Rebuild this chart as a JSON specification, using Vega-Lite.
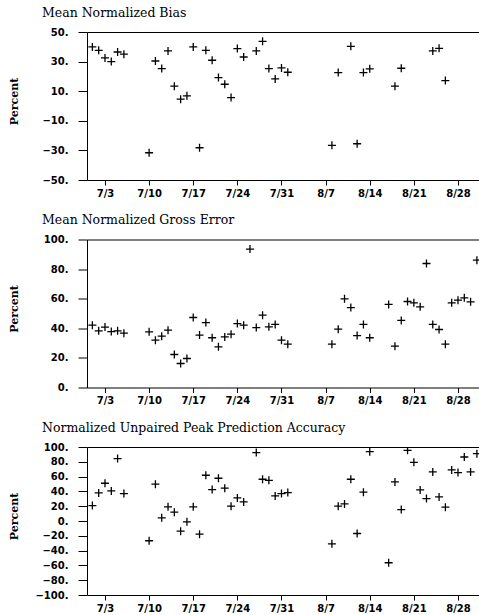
{
  "$schema": "https://vega.github.io/schema/vega-lite/v6.json",
  "padding": {"left": 8, "top": 6, "right": 0, "bottom": 0},
  "spacing": 15.5,
  "config": {
    "view": {"stroke": null},
    "title": {"font": "DejaVu Serif", "fontSize": 12.5, "fontWeight": "normal", "anchor": "start", "frame": "group", "dx": -45, "offset": 8, "baseline": "alphabetic", "color": "black"},
    "axis": {"domainColor": "black", "tickColor": "black", "labelFont": "DejaVu Sans", "labelFontWeight": "bold", "labelFontSize": 10, "labelColor": "black", "grid": false, "titleFont": "DejaVu Serif", "titleFontSize": 11, "titleFontWeight": "bold", "titleColor": "black", "labelOverlap": false, "labelFlush": false, "labelSeparation": 0}
  },
  "datasets": {
    "d": [
      {"p": 1, "date": "2012-07-01", "v": 39.9}, {"p": 1, "date": "2012-07-02", "v": 37.6}, {"p": 1, "date": "2012-07-03", "v": 32.5}, {"p": 1, "date": "2012-07-04", "v": 30.0}, {"p": 1, "date": "2012-07-05", "v": 36.5}, {"p": 1, "date": "2012-07-06", "v": 35.0},
      {"p": 1, "date": "2012-07-10", "v": -31.6}, {"p": 1, "date": "2012-07-11", "v": 30.4}, {"p": 1, "date": "2012-07-12", "v": 25.3}, {"p": 1, "date": "2012-07-13", "v": 37.2}, {"p": 1, "date": "2012-07-14", "v": 13.4}, {"p": 1, "date": "2012-07-15", "v": 4.6}, {"p": 1, "date": "2012-07-16", "v": 6.9},
      {"p": 1, "date": "2012-07-17", "v": 39.9}, {"p": 1, "date": "2012-07-18", "v": -28.2}, {"p": 1, "date": "2012-07-19", "v": 37.6}, {"p": 1, "date": "2012-07-20", "v": 30.9}, {"p": 1, "date": "2012-07-21", "v": 19.2}, {"p": 1, "date": "2012-07-22", "v": 14.7}, {"p": 1, "date": "2012-07-23", "v": 5.7},
      {"p": 1, "date": "2012-07-24", "v": 38.8}, {"p": 1, "date": "2012-07-25", "v": 33.1}, {"p": 1, "date": "2012-07-27", "v": 37.2}, {"p": 1, "date": "2012-07-28", "v": 43.7}, {"p": 1, "date": "2012-07-29", "v": 25.3}, {"p": 1, "date": "2012-07-30", "v": 18.3},
      {"p": 1, "date": "2012-07-31", "v": 25.7}, {"p": 1, "date": "2012-08-01", "v": 22.8}, {"p": 1, "date": "2012-08-08", "v": -26.6}, {"p": 1, "date": "2012-08-09", "v": 22.6}, {"p": 1, "date": "2012-08-11", "v": 40.3}, {"p": 1, "date": "2012-08-12", "v": -25.5},
      {"p": 1, "date": "2012-08-13", "v": 22.6}, {"p": 1, "date": "2012-08-14", "v": 25.1}, {"p": 1, "date": "2012-08-18", "v": 13.4}, {"p": 1, "date": "2012-08-19", "v": 25.5}, {"p": 1, "date": "2012-08-24", "v": 37.2}, {"p": 1, "date": "2012-08-25", "v": 39.0}, {"p": 1, "date": "2012-08-26", "v": 17.2},

      {"p": 2, "date": "2012-07-01", "v": 42.1}, {"p": 2, "date": "2012-07-02", "v": 38.3}, {"p": 2, "date": "2012-07-03", "v": 40.8}, {"p": 2, "date": "2012-07-04", "v": 37.8}, {"p": 2, "date": "2012-07-05", "v": 38.3}, {"p": 2, "date": "2012-07-06", "v": 36.7},
      {"p": 2, "date": "2012-07-10", "v": 37.6}, {"p": 2, "date": "2012-07-11", "v": 32.0}, {"p": 2, "date": "2012-07-12", "v": 34.7}, {"p": 2, "date": "2012-07-13", "v": 38.7}, {"p": 2, "date": "2012-07-14", "v": 22.3}, {"p": 2, "date": "2012-07-15", "v": 16.2}, {"p": 2, "date": "2012-07-16", "v": 19.6},
      {"p": 2, "date": "2012-07-17", "v": 47.3}, {"p": 2, "date": "2012-07-18", "v": 35.4}, {"p": 2, "date": "2012-07-19", "v": 43.9}, {"p": 2, "date": "2012-07-20", "v": 33.6}, {"p": 2, "date": "2012-07-21", "v": 27.5}, {"p": 2, "date": "2012-07-22", "v": 34.2}, {"p": 2, "date": "2012-07-23", "v": 36.0},
      {"p": 2, "date": "2012-07-24", "v": 43.2}, {"p": 2, "date": "2012-07-25", "v": 42.1}, {"p": 2, "date": "2012-07-26", "v": 93.5}, {"p": 2, "date": "2012-07-27", "v": 40.5}, {"p": 2, "date": "2012-07-28", "v": 48.9}, {"p": 2, "date": "2012-07-29", "v": 41.0},
      {"p": 2, "date": "2012-07-30", "v": 42.6}, {"p": 2, "date": "2012-07-31", "v": 32.0}, {"p": 2, "date": "2012-08-01", "v": 29.3}, {"p": 2, "date": "2012-08-08", "v": 29.3}, {"p": 2, "date": "2012-08-09", "v": 39.4}, {"p": 2, "date": "2012-08-10", "v": 59.9},
      {"p": 2, "date": "2012-08-11", "v": 54.0}, {"p": 2, "date": "2012-08-12", "v": 35.1}, {"p": 2, "date": "2012-08-13", "v": 42.6}, {"p": 2, "date": "2012-08-14", "v": 33.6}, {"p": 2, "date": "2012-08-17", "v": 56.1}, {"p": 2, "date": "2012-08-18", "v": 27.9},
      {"p": 2, "date": "2012-08-19", "v": 45.3}, {"p": 2, "date": "2012-08-20", "v": 58.1}, {"p": 2, "date": "2012-08-21", "v": 57.2}, {"p": 2, "date": "2012-08-22", "v": 54.5}, {"p": 2, "date": "2012-08-23", "v": 83.8}, {"p": 2, "date": "2012-08-24", "v": 42.6},
      {"p": 2, "date": "2012-08-25", "v": 39.2}, {"p": 2, "date": "2012-08-26", "v": 29.3}, {"p": 2, "date": "2012-08-27", "v": 57.2}, {"p": 2, "date": "2012-08-28", "v": 59.0}, {"p": 2, "date": "2012-08-29", "v": 60.6}, {"p": 2, "date": "2012-08-30", "v": 57.9}, {"p": 2, "date": "2012-08-31", "v": 86.0},

      {"p": 3, "date": "2012-07-01", "v": 20.9}, {"p": 3, "date": "2012-07-02", "v": 38.0}, {"p": 3, "date": "2012-07-03", "v": 51.0}, {"p": 3, "date": "2012-07-04", "v": 40.7}, {"p": 3, "date": "2012-07-05", "v": 84.3}, {"p": 3, "date": "2012-07-06", "v": 37.1},
      {"p": 3, "date": "2012-07-10", "v": -26.7}, {"p": 3, "date": "2012-07-11", "v": 49.7}, {"p": 3, "date": "2012-07-12", "v": 4.3}, {"p": 3, "date": "2012-07-13", "v": 19.1}, {"p": 3, "date": "2012-07-14", "v": 11.9}, {"p": 3, "date": "2012-07-15", "v": -13.7}, {"p": 3, "date": "2012-07-16", "v": -1.1},
      {"p": 3, "date": "2012-07-17", "v": 19.1}, {"p": 3, "date": "2012-07-18", "v": -17.8}, {"p": 3, "date": "2012-07-19", "v": 61.8}, {"p": 3, "date": "2012-07-20", "v": 42.5}, {"p": 3, "date": "2012-07-21", "v": 57.8}, {"p": 3, "date": "2012-07-22", "v": 44.3}, {"p": 3, "date": "2012-07-23", "v": 20.0},
      {"p": 3, "date": "2012-07-24", "v": 31.2}, {"p": 3, "date": "2012-07-25", "v": 25.8}, {"p": 3, "date": "2012-07-27", "v": 92.4}, {"p": 3, "date": "2012-07-28", "v": 56.4}, {"p": 3, "date": "2012-07-29", "v": 55.0}, {"p": 3, "date": "2012-07-30", "v": 33.9},
      {"p": 3, "date": "2012-07-31", "v": 37.1}, {"p": 3, "date": "2012-08-01", "v": 38.4}, {"p": 3, "date": "2012-08-08", "v": -30.8}, {"p": 3, "date": "2012-08-09", "v": 20.0}, {"p": 3, "date": "2012-08-10", "v": 23.1}, {"p": 3, "date": "2012-08-11", "v": 56.4},
      {"p": 3, "date": "2012-08-12", "v": -16.9}, {"p": 3, "date": "2012-08-13", "v": 38.9}, {"p": 3, "date": "2012-08-14", "v": 93.7}, {"p": 3, "date": "2012-08-17", "v": -56.4}, {"p": 3, "date": "2012-08-18", "v": 52.8}, {"p": 3, "date": "2012-08-19", "v": 15.5},
      {"p": 3, "date": "2012-08-20", "v": 95.5}, {"p": 3, "date": "2012-08-21", "v": 79.3}, {"p": 3, "date": "2012-08-22", "v": 42.0}, {"p": 3, "date": "2012-08-23", "v": 30.3}, {"p": 3, "date": "2012-08-24", "v": 66.3}, {"p": 3, "date": "2012-08-25", "v": 32.6},
      {"p": 3, "date": "2012-08-26", "v": 18.7}, {"p": 3, "date": "2012-08-27", "v": 69.0}, {"p": 3, "date": "2012-08-28", "v": 65.4}, {"p": 3, "date": "2012-08-29", "v": 86.5}, {"p": 3, "date": "2012-08-30", "v": 66.3}, {"p": 3, "date": "2012-08-31", "v": 91.0}
    ]
  },
  "vconcat": [
    {
      "title": "Mean Normalized Bias",
      "width": 392, "height": 148,
      "data": {"name": "d"},
      "transform": [{"filter": "datum.p == 1"}],
      "layer": [
        {
          "mark": {"type": "point", "shape": "M-1,0H1M0,-1V1", "size": 64, "filled": false, "stroke": "black", "strokeWidth": 1.3, "opacity": 1, "clip": true},
          "encoding": {
            "x": {"field": "date", "type": "temporal", "scale": {"type": "utc", "domain": [{"year": 2012, "month": 6, "date": 30, "hours": 3, "minutes": 30, "utc": true}, {"year": 2012, "month": 8, "date": 31, "hours": 8, "utc": true}]},
              "axis": {"orient": "bottom", "title": null, "values": [{"year": 2012, "month": 7, "date": 3, "utc": true}, {"year": 2012, "month": 7, "date": 10, "utc": true}, {"year": 2012, "month": 7, "date": 17, "utc": true}, {"year": 2012, "month": 7, "date": 24, "utc": true}, {"year": 2012, "month": 7, "date": 31, "utc": true}, {"year": 2012, "month": 8, "date": 7, "utc": true}, {"year": 2012, "month": 8, "date": 14, "utc": true}, {"year": 2012, "month": 8, "date": 21, "utc": true}, {"year": 2012, "month": 8, "date": 28, "utc": true}],
                "labelExpr": "utcFormat(datum.value, '%-m/%-d')", "tickSize": 5, "labelPadding": 3, "labelOverlap": false}},
            "y": {"field": "v", "type": "quantitative", "scale": {"domain": [-50, 50], "nice": false, "zero": false},
              "axis": {"values": [-50, -30, -10, 10, 30, 50], "labelExpr": "format(datum.value, 'd') + '.'", "labelOverlap": false, "labelSeparation": 0, "tickSize": 9, "labelPadding": 10, "title": "Percent", "titleX": -73, "titleY": 69, "titleAngle": -90, "titleAlign": "center", "titleBaseline": "middle"}}
          }
        },
        {
          "mark": {"type": "point", "opacity": 0, "clip": true},
          "encoding": {
            "x": {"field": "date", "type": "temporal", "axis": {"orient": "top", "labels": false, "ticks": false, "title": null}}
          }
        }
      ],
      "resolve": {"axis": {"x": "independent"}}
    },
    {
      "title": "Mean Normalized Gross Error",
      "width": 392, "height": 148,
      "data": {"name": "d"},
      "transform": [{"filter": "datum.p == 2"}],
      "layer": [
        {
          "mark": {"type": "point", "shape": "M-1,0H1M0,-1V1", "size": 64, "filled": false, "stroke": "black", "strokeWidth": 1.3, "opacity": 1, "clip": true},
          "encoding": {
            "x": {"field": "date", "type": "temporal", "scale": {"type": "utc", "domain": [{"year": 2012, "month": 6, "date": 30, "hours": 3, "minutes": 30, "utc": true}, {"year": 2012, "month": 8, "date": 31, "hours": 8, "utc": true}]},
              "axis": {"orient": "bottom", "title": null, "values": [{"year": 2012, "month": 7, "date": 3, "utc": true}, {"year": 2012, "month": 7, "date": 10, "utc": true}, {"year": 2012, "month": 7, "date": 17, "utc": true}, {"year": 2012, "month": 7, "date": 24, "utc": true}, {"year": 2012, "month": 7, "date": 31, "utc": true}, {"year": 2012, "month": 8, "date": 7, "utc": true}, {"year": 2012, "month": 8, "date": 14, "utc": true}, {"year": 2012, "month": 8, "date": 21, "utc": true}, {"year": 2012, "month": 8, "date": 28, "utc": true}],
                "labelExpr": "utcFormat(datum.value, '%-m/%-d')", "tickSize": 5, "labelPadding": 3, "labelOverlap": false}},
            "y": {"field": "v", "type": "quantitative", "scale": {"domain": [0, 100], "nice": false},
              "axis": {"values": [0, 20, 40, 60, 80, 100], "labelExpr": "format(datum.value, 'd') + '.'", "labelOverlap": false, "labelSeparation": 0, "tickSize": 9, "labelPadding": 10, "title": "Percent", "titleX": -73, "titleY": 69, "titleAngle": -90, "titleAlign": "center", "titleBaseline": "middle"}}
          }
        },
        {
          "mark": {"type": "point", "opacity": 0, "clip": true},
          "encoding": {
            "x": {"field": "date", "type": "temporal", "axis": {"orient": "top", "labels": false, "ticks": false, "title": null}}
          }
        }
      ],
      "resolve": {"axis": {"x": "independent"}}
    },
    {
      "title": "Normalized Unpaired Peak Prediction Accuracy",
      "width": 392, "height": 148,
      "data": {"name": "d"},
      "transform": [{"filter": "datum.p == 3"}],
      "layer": [
        {
          "mark": {"type": "point", "shape": "M-1,0H1M0,-1V1", "size": 64, "filled": false, "stroke": "black", "strokeWidth": 1.3, "opacity": 1, "clip": true},
          "encoding": {
            "x": {"field": "date", "type": "temporal", "scale": {"type": "utc", "domain": [{"year": 2012, "month": 6, "date": 30, "hours": 3, "minutes": 30, "utc": true}, {"year": 2012, "month": 8, "date": 31, "hours": 8, "utc": true}]},
              "axis": {"orient": "bottom", "title": null, "values": [{"year": 2012, "month": 7, "date": 3, "utc": true}, {"year": 2012, "month": 7, "date": 10, "utc": true}, {"year": 2012, "month": 7, "date": 17, "utc": true}, {"year": 2012, "month": 7, "date": 24, "utc": true}, {"year": 2012, "month": 7, "date": 31, "utc": true}, {"year": 2012, "month": 8, "date": 7, "utc": true}, {"year": 2012, "month": 8, "date": 14, "utc": true}, {"year": 2012, "month": 8, "date": 21, "utc": true}, {"year": 2012, "month": 8, "date": 28, "utc": true}],
                "labelExpr": "utcFormat(datum.value, '%-m/%-d')", "tickSize": 5, "labelPadding": 3, "labelOverlap": false}},
            "y": {"field": "v", "type": "quantitative", "scale": {"domain": [-100, 100], "nice": false},
              "axis": {"values": [-100, -80, -60, -40, -20, 0, 20, 40, 60, 80, 100], "labelExpr": "format(datum.value, 'd') + '.'", "labelOverlap": false, "labelSeparation": 0, "tickSize": 9, "labelPadding": 10, "title": "Percent", "titleX": -73, "titleY": 69, "titleAngle": -90, "titleAlign": "center", "titleBaseline": "middle"}}
          }
        },
        {
          "mark": {"type": "point", "opacity": 0, "clip": true},
          "encoding": {
            "x": {"field": "date", "type": "temporal", "axis": {"orient": "top", "labels": false, "ticks": false, "title": null}}
          }
        }
      ],
      "resolve": {"axis": {"x": "independent"}}
    }
  ]
}
